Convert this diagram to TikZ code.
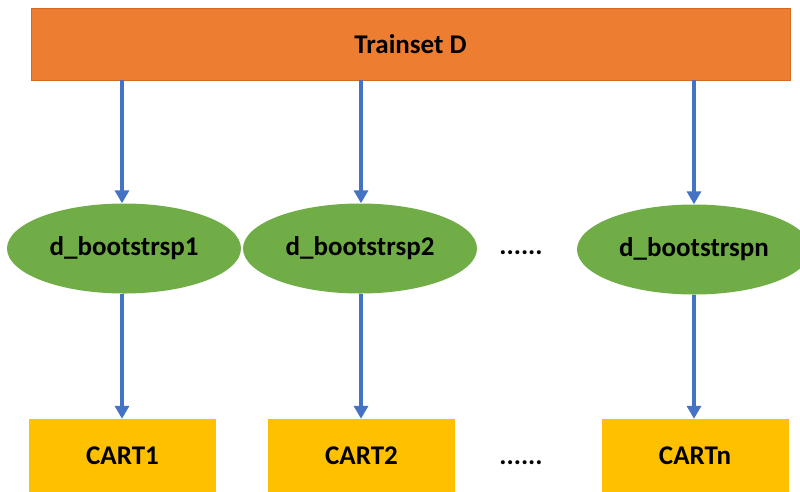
\documentclass[tikz,border=0pt]{standalone}
\usepackage{fontspec}
\setmainfont{Carlito}
\usetikzlibrary{arrows.meta,shapes.geometric}
\definecolor{trainorange}{HTML}{ED7D31}
\definecolor{trainedge}{HTML}{D46A22}
\definecolor{bootgreen}{HTML}{70AD47}
\definecolor{cartyellow}{HTML}{FFC000}
\definecolor{flowblue}{HTML}{4472C4}
\tikzset{
  lbl/.style={font=\fontsize{27}{32}\selectfont\bfseries, text=black},
  trainbox/.style={lbl, rectangle, fill=trainorange, draw=trainedge, line width=0.8pt,
    minimum width=759pt, minimum height=72pt, inner sep=0pt},
  bootnode/.style={lbl, ellipse, fill=bootgreen, draw=none,
    minimum width=234pt, minimum height=90pt, inner sep=0pt},
  cartbox/.style={lbl, rectangle, fill=cartyellow, draw=none,
    minimum width=187pt, minimum height=74pt, inner sep=0pt},
  flow/.style={draw=flowblue, line width=3.6pt,
    -{Triangle[width=14pt,length=13pt]}},
  gap/.style={lbl}
}
\begin{document}
\begin{tikzpicture}[x=1pt,y=-1pt]
  \useasboundingbox[clip] (0,0) rectangle (800,491);
  \fill[white] (0,0) rectangle (800,491);

  % training set
  \node[trainbox] (train) at (410.5,44) {Trainset D};

  % bootstrap samples
  \node[bootnode] (b1) at (124,248.5) {d\_bootstrsp1};
  \node[bootnode] (b2) at (360,248.5) {d\_bootstrsp2};
  \node[bootnode] (bn) at (694,249.5) {d\_bootstrspn};
  \node[gap] (dots1) at (521,253) {......};

  % trees
  \node[cartbox] (c1) at (122.5,456) {CART1};
  \node[cartbox] (c2) at (361.5,456) {CART2};
  \node[cartbox] (cn) at (695,456) {CARTn};
  \node[gap] (dots2) at (521,463) {......};

  % connectors
  \draw[flow] (train.south -| b1.north) ++(-2,0) coordinate (t1) -- (t1 |- b1.north);
  \draw[flow] (train.south -| b2.north) ++(1,0) coordinate (t2) -- (t2 |- b2.north);
  \draw[flow] (train.south -| bn.north) coordinate (t3) -- (bn.north);
  \draw[flow] (b1.south) ++(-2,0) coordinate (s1) -- (s1 |- c1.north);
  \draw[flow] (b2.south) ++(1,0) coordinate (s2) -- (s2 |- c2.north);
  \draw[flow] (bn.south) coordinate (s3) -- (s3 |- cn.north);
\end{tikzpicture}
\end{document}
